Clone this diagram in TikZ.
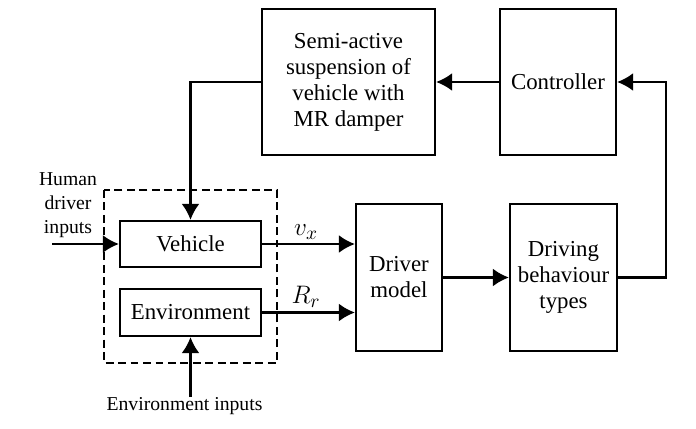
\documentclass[tikz,border=0pt]{standalone}
\usepackage{fontspec}
\setmainfont{Liberation Serif}
\usetikzlibrary{arrows.meta,calc}

\begin{document}
\begin{tikzpicture}[x=0.02cm,y=-0.02cm,
  blk/.style={draw,line width=1.3pt,align=center,inner sep=0pt,font=\fontsize{13}{14.8}\selectfont},
  lbl/.style={align=center,inner sep=0pt,font=\fontsize{11.2}{13.6}\selectfont},
  arr/.style={line width=1.3pt,-{Latex[length=3.2mm,width=3.6mm]}}]
\useasboundingbox (0,0) rectangle (696,429);
% blocks
\node[blk,minimum width=3.46cm,minimum height=2.92cm] (susp) at (348.5,82) {Semi-active\\suspension of\\vehicle with\\MR damper};
\node[blk,minimum width=2.32cm,minimum height=2.92cm] (ctrl) at (558,82) {Controller};
\node[blk,minimum width=2.82cm,minimum height=0.92cm] (vehicle) at (190.5,244) {Vehicle};
\node[blk,minimum width=2.82cm,minimum height=0.94cm] (env) at (190.5,312.5) {Environment};
\node[blk,minimum width=1.72cm,minimum height=2.94cm] (driver) at (399,277.5) {Driver\\model};
\node[blk,minimum width=2.14cm,minimum height=2.94cm] (behav) at (563.5,277.5) {Driving\\behaviour\\types};
\draw[line width=1.3pt,dash pattern=on 4.5pt off 2.6pt] (104,190) rectangle (277,363);
% inputs
\node[lbl] (human) at (68,205) {Human\\driver\\inputs};
\node[lbl,anchor=north] (envlbl) at (184.5,397) {Environment inputs};
\coordinate (hin) at (52,244);
\coordinate (fb) at (666,180);
\draw[arr] (hin) -- (vehicle.west);
\draw[arr] (envlbl.north -| env.south) -- (env.south);
% signals
\draw[arr] (vehicle.east) -- (vehicle.east -| driver.west);
\draw[arr] (env.east) -- (env.east -| driver.west);
\node[font=\fontsize{15}{17}\selectfont] (vx) at (306,232) {$v_x$};
\node[font=\fontsize{15}{17}\selectfont] (rr) at (306,297) {$R_r$};
\draw[arr] (driver.east) -- (behav.west);
\draw[arr] (behav.east) -| (fb) |- (ctrl.east);
\draw[arr] (ctrl.west) -- (susp.east);
\draw[arr] (susp.west) -| (vehicle.north);
\end{tikzpicture}
\end{document}
